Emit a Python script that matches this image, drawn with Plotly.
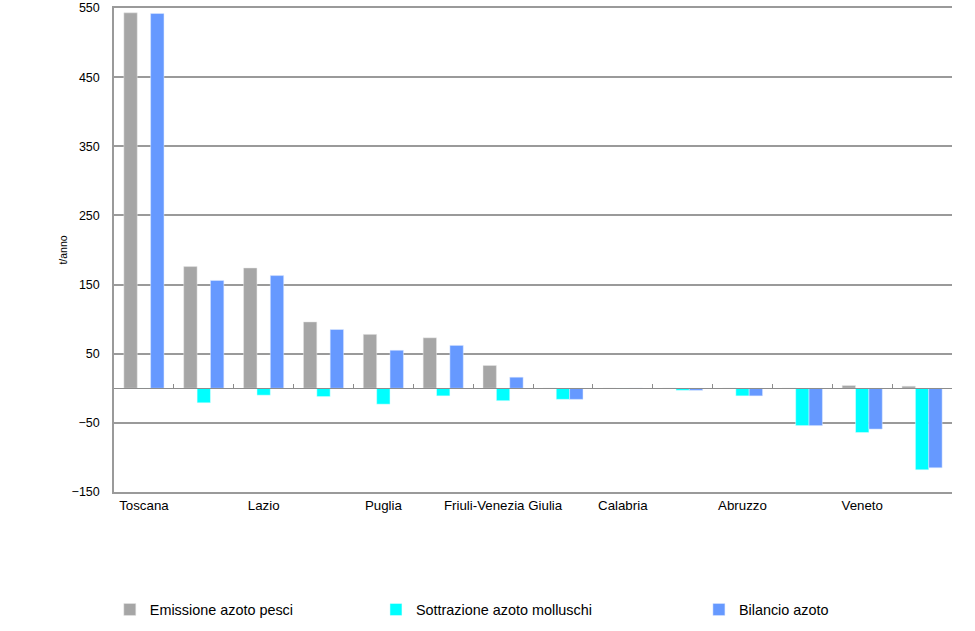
import plotly.graph_objects as go

regions = ["Toscana", "Sicilia", "Lazio", "Campania", "Puglia", "Sardegna",
           "Friuli-Venezia Giulia", "Liguria", "Calabria", "Molise", "Abruzzo",
           "Marche", "Veneto", "Emilia-Romagna"]
emissione_pesci = [543, 176, 174, 96, 78, 73, 33, 0, 0, 0, 0, 0, 4, 3]
sottrazione_molluschi = [0, -21, -10, -12, -23, -11, -18, -16, 0, -3, -11, -54, -64, -118]
bilancio_azoto = [542, 156, 163, 85, 55, 62, 16, -16, 0, -3, -11, -54, -59, -115]
tick_labels = regions[::2]

font = "Liberation Sans, Arial, sans-serif"
grid = "#9A9A9A"
fig = go.Figure()
fig.add_trace(go.Bar(x=regions, y=emissione_pesci, name="Emissione azoto pesci",
                     marker=dict(color="#A6A6A6", line=dict(color="#E8E8E8", width=0.5)),
                     legend="legend"))
fig.add_trace(go.Bar(x=regions, y=sottrazione_molluschi, name="Sottrazione azoto molluschi",
                     marker=dict(color="#00FFFF", line=dict(color="#E8FFFF", width=0.5)),
                     legend="legend2"))
fig.add_trace(go.Bar(x=regions, y=bilancio_azoto, name="Bilancio azoto",
                     marker=dict(color="#6699FF", line=dict(color="#E0EAFF", width=0.5)),
                     legend="legend3"))

n = len(regions)
boundaries = [i - 0.5 for i in range(n + 1)]
zero_pos = (0 - (-150)) / (550 - (-150))

legend_common = dict(orientation="h", yanchor="middle", y=-0.243, xanchor="left",
                     font=dict(family=font, size=14.4, color="#000000"),
                     bgcolor="rgba(0,0,0,0)", itemwidth=30)

fig.update_layout(
    width=975, height=631,
    margin=dict(l=114, r=23, t=8, b=139, autoexpand=False),
    paper_bgcolor="white", plot_bgcolor="white",
    barmode="group", bargap=0.33, bargroupgap=0,
    font=dict(family=font, size=12, color="#000000"),
    xaxis=dict(type="category", tickmode="array", tickvals=tick_labels, ticktext=tick_labels,
               showline=True, mirror=True, linecolor=grid, linewidth=1.5,
               showgrid=False, ticks="", zeroline=False,
               tickfont=dict(family=font, size=13.3), range=[-0.5, n - 0.5]),
    xaxis2=dict(overlaying="x", anchor="free", position=zero_pos, range=[-0.5, n - 0.5],
                tickmode="array", tickvals=boundaries, ticks="inside", ticklen=4,
                tickcolor="#8C8C8C", tickwidth=1, showticklabels=False,
                showline=True, linecolor="#8C8C8C", linewidth=1.3, showgrid=False, zeroline=False),
    yaxis=dict(range=[-150, 550], tick0=-150, dtick=100, showgrid=True,
               gridcolor=grid, gridwidth=1.5, showline=True, linecolor=grid,
               linewidth=1.5, zeroline=False, ticks="", ticklabelstandoff=10,
               tickfont=dict(family=font, size=12.5),
               title=dict(text="t/anno", font=dict(family=font, size=10.5), standoff=2)),
    legend=dict(x=-0.005, **legend_common),
    legend2=dict(x=0.3126, **legend_common),
    legend3=dict(x=0.698, **legend_common),
)
fig.add_trace(go.Scatter(x=[boundaries[0], boundaries[-1]], y=[None, None], xaxis="x2",
                         mode="lines", showlegend=False, hoverinfo="skip"))

fig.write_html("out.html", config={"displayModeBar": False},
               post_script="document.body.style.margin='0';document.body.style.padding='0';")
